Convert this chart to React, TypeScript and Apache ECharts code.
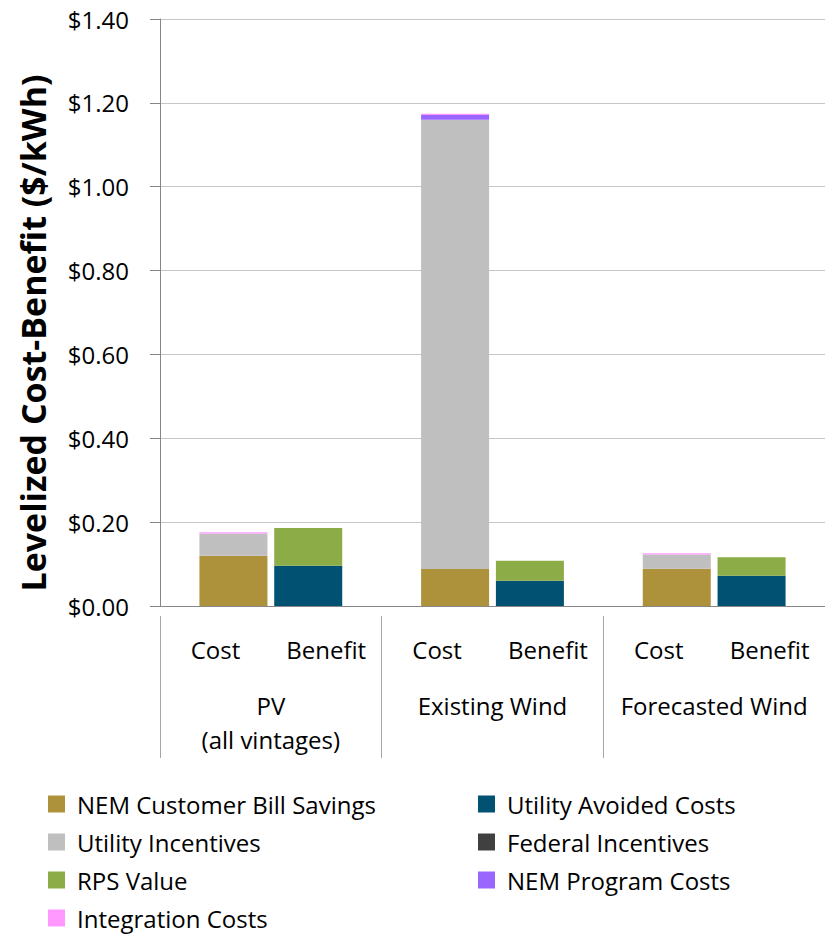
import React, { useEffect, useRef } from "react";
import * as echarts from "echarts";

// Technology groups (outer axis level) and cost / benefit columns (inner level)
const groups = ["PV\n(all vintages)", "Existing Wind", "Forecasted Wind"];
const sides = ["Cost", "Benefit", "Cost", "Benefit", "Cost", "Benefit"];

// Cost stack components ($/kWh) per group
const nemBillSavings = [0.12, 0.088, 0.089];
const utilityIncentives = [0.053, 1.072, 0.034];
const federalIncentives = [0, 0, 0];
const nemProgramCosts = [0, 0.011, 0];
const integrationCosts = [0.003, 0.003, 0.003];

// Benefit stack components ($/kWh) per group
const utilityAvoidedCosts = [0.096, 0.06, 0.072];
const rpsValue = [0.09, 0.048, 0.044];

const FONT = "Open Sans";

export default function App() {
  const ref = useRef<HTMLDivElement>(null);

  useEffect(() => {
    document.body.style.margin = "0";
    if (!ref.current) return;
    const chart = echarts.init(ref.current, null, { renderer: "svg" });

    const bar = (name: string, stack: string, data: number[], color: string) => ({
      name,
      type: "bar",
      stack,
      xAxisIndex: 0,
      barWidth: 68,
      barGap: "10%",
      data,
      itemStyle: { color },
      emphasis: { disabled: true },
    });

    const legendBase = {
      orient: "vertical",
      top: 792,
      padding: 0,
      icon: "rect",
      itemWidth: 17,
      itemHeight: 17,
      itemGap: 14,
      selectedMode: false,
      textStyle: { fontFamily: FONT, fontSize: 24, lineHeight: 24, color: "#000", padding: [0, 0, 0, 7] },
    };

    chart.setOption({
      animation: false,
      textStyle: { fontFamily: FONT },
      grid: { left: 160, right: -10, top: 19, bottom: 328, containLabel: false },
      xAxis: [
        {
          type: "category",
          position: "bottom",
          data: groups,
          axisLine: { show: true, lineStyle: { color: "#868686", width: 1 } },
          axisTick: { show: false },
          axisLabel: { show: false },
        },
        {
          type: "category",
          position: "bottom",
          offset: 10,
          data: groups,
          axisLine: { show: false },
          axisTick: { show: true, interval: 0, length: 142, lineStyle: { color: "#A6A6A6", width: 1 } },
          axisLabel: {
            show: true,
            interval: 0,
            margin: 72,
            fontFamily: FONT,
            fontSize: 24,
            lineHeight: 34,
            color: "#000",
            verticalAlign: "top",
          },
        },
        {
          type: "category",
          position: "bottom",
          data: sides,
          axisLine: { show: false },
          axisTick: { show: false },
          axisLabel: {
            show: true,
            interval: 0,
            margin: 31,
            fontFamily: FONT,
            fontSize: 24,
            lineHeight: 24,
            color: "#000",
            verticalAlign: "top",
          },
        },
      ],
      yAxis: {
        type: "value",
        min: 0,
        max: 1.4,
        interval: 0.2,
        axisLine: { show: true, lineStyle: { color: "#868686", width: 1 } },
        axisTick: { show: true, length: 10, lineStyle: { color: "#868686" } },
        splitLine: { show: true, lineStyle: { color: "#C6C6C6", width: 1 } },
        axisLabel: {
          margin: 31,
          fontFamily: FONT,
          fontSize: 24,
          color: "#000",
          formatter: (v: number) => "$" + v.toFixed(2),
        },
      },
      legend: [
        {
          ...legendBase,
          left: 48,
          data: ["NEM Customer Bill Savings", "Utility Incentives", "RPS Value", "Integration Costs"],
        },
        {
          ...legendBase,
          left: 478,
          data: ["Utility Avoided Costs", "Federal Incentives", "NEM Program Costs"],
        },
      ],
      graphic: [
        {
          type: "text",
          x: 33,
          y: 333,
          rotation: Math.PI / 2,
          style: {
            text: "Levelized Cost-Benefit ($/kWh)",
            fontFamily: FONT,
            fontSize: 34,
            fontWeight: "bold",
            fill: "#000",
            align: "center",
            verticalAlign: "middle",
          },
        },
      ],
      series: [
        bar("NEM Customer Bill Savings", "cost", nemBillSavings, "#AE923B"),
        bar("Utility Incentives", "cost", utilityIncentives, "#BFBFBF"),
        bar("Federal Incentives", "cost", federalIncentives, "#404040"),
        bar("NEM Program Costs", "cost", nemProgramCosts, "#9966FF"),
        bar("Integration Costs", "cost", integrationCosts, "#FF99FF"),
        bar("Utility Avoided Costs", "benefit", utilityAvoidedCosts, "#005172"),
        bar("RPS Value", "benefit", rpsValue, "#8BAC46"),
      ],
    });

    return () => chart.dispose();
  }, []);

  return <div ref={ref} style={{ width: 825, height: 934 }} />;
}
